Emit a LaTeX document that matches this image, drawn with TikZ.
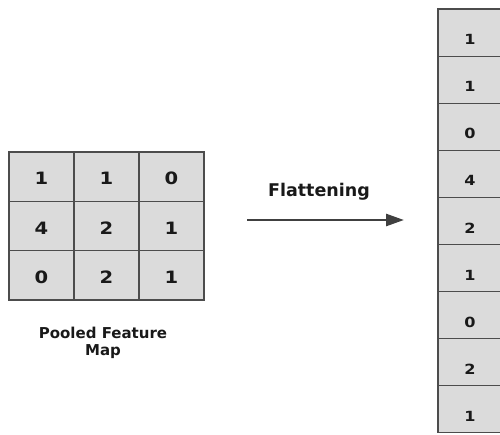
\documentclass[tikz,border=0pt]{standalone}
\usepackage{fontspec}
\setmainfont{DejaVu Sans}
\usetikzlibrary{arrows.meta}
\tikzset{
  cellbox/.style={draw=black!70, line width=1.1pt, fill=black!14},
  bigdigit/.style={font=\bfseries\fontsize{17}{20}\selectfont, text=black!90},
  smalldigit/.style={font=\bfseries\fontsize{14}{16}\selectfont, text=black!90},
  flow/.style={draw=black!75, line width=2.6pt, -{Triangle[length=18pt,width=12pt]}},
}
\newcommand{\wide}[1]{\scalebox{1.15}[1]{#1}}
\begin{document}
\begin{tikzpicture}[x=1pt,y=-1pt]
\useasboundingbox (0,0) rectangle (500,434);
\clip (0,0) rectangle (500,434);
% 3x3 grid
\foreach \r/\a/\b/\c [count=\i from 0] in {0/1/1/0,1/4/2/1,2/0/2/1}{
  \pgfmathsetmacro\ytop{152+\i*49.33}
  \pgfmathsetmacro\ybot{152+(\i+1)*49.33}
  \draw[cellbox] (9,\ytop) rectangle (74,\ybot);
  \draw[cellbox] (74,\ytop) rectangle (139,\ybot);
  \draw[cellbox] (139,\ytop) rectangle (204,\ybot);
  \node[bigdigit] (g\i a) at (41.5,{(\ytop+\ybot)/2+2}) {\wide{\a}};
  \node[bigdigit] (g\i b) at (106.5,{(\ytop+\ybot)/2+2}) {\wide{\b}};
  \node[bigdigit] (g\i c) at (171.5,{(\ytop+\ybot)/2+2}) {\wide{\c}};
}
\node[font=\bfseries\fontsize{15}{16.5}\selectfont, align=center, text=black!90] (lbl) at (103,343) {Pooled Feature\\Map};
% arrow
\coordinate (as) at (247,220);
\coordinate (ae) at (404,220);
\draw[flow] (as) -- (ae);
\node[font=\bfseries\fontsize{17.5}{20}\selectfont, text=black!90] (flat) at (319,192) {Flattening};
% column
\foreach \v [count=\j from 0] in {1,1,0,4,2,1,0,2,1}{
  \pgfmathsetmacro\ytop{9+\j*47.1}
  \pgfmathsetmacro\ybot{9+(\j+1)*47.1}
  \draw[cellbox] (438,\ytop) rectangle (503,\ybot);
  \node[smalldigit] (c\j) at (470,{(\ytop+\ybot)/2+7}) {\wide{\v}};
}
\end{tikzpicture}
\end{document}
